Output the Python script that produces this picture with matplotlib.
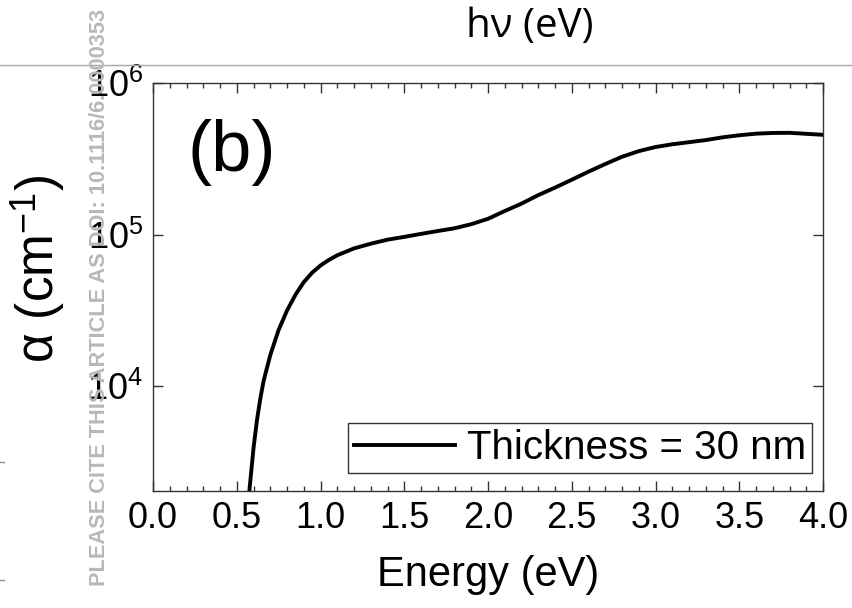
import numpy as np
import matplotlib
matplotlib.use("Agg")
import matplotlib.pyplot as plt
from matplotlib.ticker import MultipleLocator, FormatStrFormatter, LogLocator, NullLocator

plt.rcParams["font.family"] = ["Liberation Sans", "DejaVu Sans"]
plt.rcParams["mathtext.fontset"] = "custom"
plt.rcParams["mathtext.rm"] = "Liberation Sans"
plt.rcParams["mathtext.it"] = "Liberation Serif:italic"

# datos (energia en eV, absorcion en cm^-1)
energia = [0.575, 0.60, 0.62, 0.64, 0.66, 0.70, 0.75, 0.80, 0.85, 0.90, 0.95,
           1.00, 1.05, 1.10, 1.20, 1.30, 1.40, 1.50, 1.60, 1.70, 1.80, 1.90,
           2.00, 2.10, 2.20, 2.30, 2.40, 2.50, 2.60, 2.70, 2.80, 2.90, 3.00,
           3.10, 3.20, 3.30, 3.40, 3.50, 3.60, 3.70, 3.80, 3.90, 4.00]
alfa = [2030, 3900, 5900, 8200, 10800, 16000, 23500, 31500, 40000, 48500, 56000,
        62500, 68000, 73000, 81000, 87000, 92500, 96500, 101000, 105500, 110000, 117000,
        127000, 143000, 160000, 182000, 204000, 230000, 260000, 292000, 326000, 355000, 378000,
        394000, 407000, 420000, 438000, 452000, 463000, 468000, 469000, 462000, 455000]
etiqueta_serie = "Thickness = 30 nm"
x_ticks = [0.0, 0.5, 1.0, 1.5, 2.0, 2.5, 3.0, 3.5, 4.0]

fig = plt.figure(figsize=(8.52, 6.08), dpi=100)
ax = fig.add_axes([0.1796, 0.1924, 0.7864, 0.6711])

ax.plot(energia, alfa, color="black", lw=2.8, label=etiqueta_serie)

ax.set_yscale("log")
ax.set_xlim(0, 4.0)
ax.set_ylim(2030, 1e6)
ax.set_xticks(x_ticks)
ax.xaxis.set_minor_locator(MultipleLocator(0.1))
ax.xaxis.set_major_formatter(FormatStrFormatter("%.1f"))
ax.yaxis.set_major_locator(LogLocator(base=10))
ax.yaxis.set_minor_locator(NullLocator())

for s in ax.spines.values():
    s.set_linewidth(1.0)
    s.set_color("#333333")

ax.tick_params(which="both", direction="in", top=True, right=True, color="#333333")
ax.tick_params(which="major", length=7, width=1.0, labelsize=26, pad=7)
ax.tick_params(which="minor", length=3.5, width=1.0)

ax.set_xlabel("Energy (eV)", fontsize=30, labelpad=14)
ax.set_ylabel("α (cm$^{-1}$)", fontsize=37)
ax.yaxis.set_label_coords(-0.128, 0.545)

ax.text(0.052, 0.83, "(b)", transform=ax.transAxes, fontsize=52,
        ha="left", va="center")

leg = ax.legend(loc="lower right", bbox_to_anchor=(0.9836, 0.044), borderaxespad=0,
                fontsize=29, frameon=True, fancybox=False, handlelength=2.5,
                handletextpad=0.3, borderpad=0.15)
leg.get_frame().set_edgecolor("black")
leg.get_frame().set_linewidth(1.0)

# elementos de la pagina original
fig.text(0.622, 0.956, "hν (eV)", fontsize=29, family="Open Sans",
         ha="center", va="center")
fig.add_artist(plt.Line2D([0, 1], [1 - 65 / 608, 1 - 65 / 608],
                          color="#a8a8a8", lw=1.0, transform=fig.transFigure))
for yy in [462, 580]:
    fig.add_artist(plt.Line2D([0, 4 / 852], [1 - yy / 608, 1 - yy / 608],
                              color="#909090", lw=1.0, transform=fig.transFigure))
fig.text(0.117, 0.51, "PLEASE CITE THIS ARTICLE AS DOI: 10.1116/6.0000353",
         rotation=90, fontsize=15.7, weight="bold", color="#b8b8b8",
         ha="center", va="center")

plt.savefig("out.png", dpi=100)
